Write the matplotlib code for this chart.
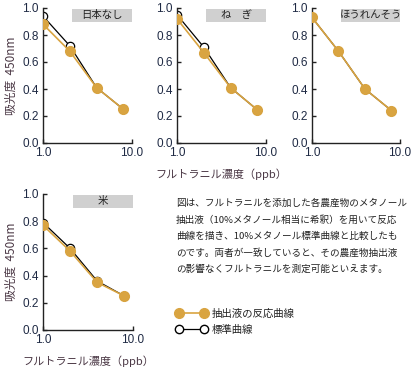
import matplotlib
matplotlib.use("Agg")
import matplotlib.pyplot as plt
from matplotlib.lines import Line2D
from matplotlib.patches import Rectangle

# 日本語フォント
plt.rcParams['font.family'] = ['Noto Sans CJK JP', 'DejaVu Sans']

# データ
conc = [1, 2, 4, 8]
titles = ["日本なし", "ね　ぎ", "ほうれんそう", "米"]
sample_vals = [
    [0.88, 0.68, 0.41, 0.25],
    [0.92, 0.67, 0.41, 0.245],
    [0.93, 0.68, 0.40, 0.24],
    [0.77, 0.58, 0.35, 0.25],
]
standard_vals = [
    [0.94, 0.72, 0.41, 0.25],
    [0.95, 0.71, 0.41, 0.245],
    [0.93, 0.68, 0.40, 0.24],
    [0.79, 0.60, 0.36, 0.25],
]
yticks = [0.0, 0.2, 0.4, 0.6, 0.8, 1.0]
ytick_labels = ["0.0", "0.2", "0.4", "0.6", "0.8", "1.0"]
xticks = [1, 10]
xtick_labels = ["1.0", "10.0"]

orange = "#d9a441"
label_col = "#4b3845"
tick_col = "#1f2a44"

W, H = 417, 371
fig = plt.figure(figsize=(W / 100, H / 100), dpi=100)

# 各パネルの位置（ピクセル：左, 上, 幅, 高さ）
boxes = [(43, 8, 89, 135), (177, 8, 89, 135), (312, 8, 88, 135), (43, 194, 90, 136)]

axes = []
for i, (l, t, w, h) in enumerate(boxes):
    ax = fig.add_axes([l / W, 1 - (t + h) / H, w / W, h / H])
    axes.append(ax)
    ax.plot(conc, standard_vals[i], color="black", lw=0.9, marker="o", ms=6,
            mfc="white", mec="black", mew=0.9, zorder=2)
    ax.plot(conc, sample_vals[i], color=orange, lw=1.2, marker="o", ms=7,
            mfc=orange, mec=orange, zorder=3)
    ax.set_xscale("log")
    ax.set_xlim(1, 10)
    ax.set_ylim(0, 1.0)
    ax.set_xticks(xticks)
    ax.set_xticklabels(xtick_labels)
    ax.minorticks_off()
    ax.set_yticks(yticks)
    ax.set_yticklabels(ytick_labels)
    for sp in ["top", "right"]:
        ax.spines[sp].set_visible(False)
    for sp in ["left", "bottom"]:
        ax.spines[sp].set_linewidth(1.0)
        ax.spines[sp].set_color("#222222")
    ax.tick_params(direction="in", length=3, width=1.0, colors="#222222",
                   labelcolor=tick_col, labelsize=8.5, pad=3)
    for lab in ax.get_xticklabels() + ax.get_yticklabels():
        lab.set_family("Liberation Sans")
    ax.patch.set_alpha(0)
    # タイトルの灰色ボックス
    ax.add_patch(Rectangle((0.33, 0.9), 0.67, 0.095, transform=ax.transAxes,
                           facecolor="#d0d0d0", edgecolor="none", clip_on=False, zorder=1))
    ax.text(0.665, 0.948, titles[i], transform=ax.transAxes, ha="center", va="center",
            fontsize=7.5, color="#222222", zorder=4)

for ax in [axes[0], axes[3]]:
    ax.set_ylabel("吸光度  450nm", fontsize=8.5, color=label_col, labelpad=3)

axes[1].set_xlabel("フルトラニル濃度（ppb）", fontsize=8, color=label_col, labelpad=7)
axes[3].set_xlabel("フルトラニル濃度（ppb）", fontsize=8, color=label_col, labelpad=7)

# 説明文
note = ["図は、フルトラニルを添加した各農産物のメタノール",
        "抽出液（10%メタノール相当に希釈）を用いて反応",
        "曲線を描き、10%メタノール標準曲線と比較したも",
        "のです。両者が一致していると、その農産物抽出液",
        "の影響なくフルトラニルを測定可能といえます。"]
for k, line in enumerate(note):
    fig.text(176 / W, 1 - (203 + 16.5 * k) / H, line, fontsize=6.9,
             color="#222222", va="center", ha="left")

# 凡例
handles = [
    Line2D([], [], color=orange, lw=1.2, marker="o", ms=7, mfc=orange, mec=orange),
    Line2D([], [], color="black", lw=0.9, marker="o", ms=6, mfc="white", mec="black"),
]
fig.legend(handles, ["抽出液の反応曲線", "標準曲線"], loc="upper left",
           bbox_to_anchor=(166 / W, 1 - 299 / H), frameon=False, numpoints=2,
           handlelength=3.0, fontsize=7.5, labelspacing=0.6, handletextpad=0.5,
           labelcolor="#222222")

fig.savefig("out.png", dpi=100)
